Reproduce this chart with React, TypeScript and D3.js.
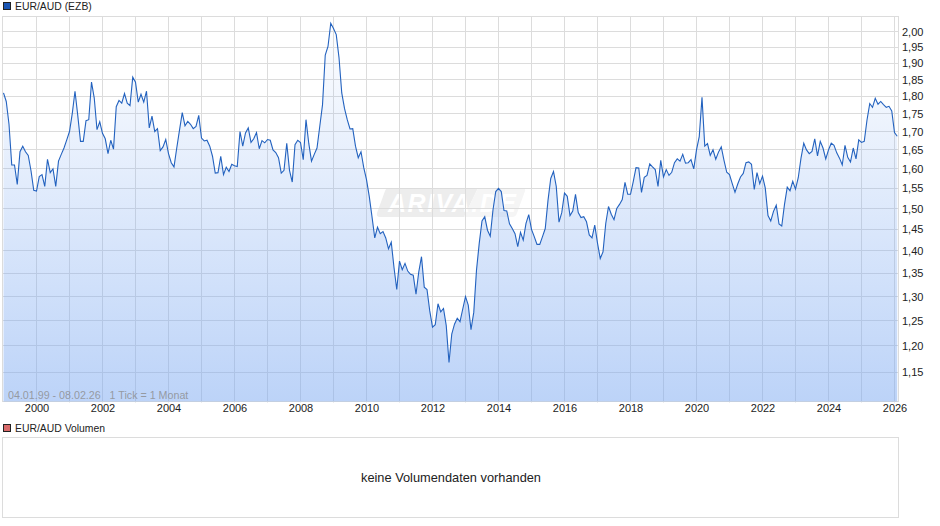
import React, { useRef, useEffect } from "react";
import * as d3 from "d3";

// monthly EUR/AUD close, Jan 1999 - Feb 2026, one row per year
const rates: number[] = [
    1.81, 1.785, 1.72, 1.61, 1.61, 1.56, 1.645, 1.66, 1.645, 1.635, 1.595, 1.545,
    1.543, 1.58, 1.585, 1.555, 1.625, 1.59, 1.6, 1.555, 1.62, 1.638, 1.655, 1.677,
    1.7, 1.75, 1.815, 1.745, 1.673, 1.673, 1.73, 1.733, 1.842, 1.795, 1.705, 1.727,
    1.695, 1.68, 1.64, 1.676, 1.652, 1.77, 1.788, 1.78, 1.808, 1.78, 1.773, 1.857,
    1.842, 1.783, 1.806, 1.783, 1.815, 1.71, 1.743, 1.7, 1.708, 1.648, 1.658, 1.678,
    1.64, 1.616, 1.605, 1.655, 1.704, 1.753, 1.716, 1.728, 1.72, 1.708, 1.714, 1.745,
    1.682, 1.674, 1.676, 1.66, 1.633, 1.589, 1.59, 1.633, 1.585, 1.604, 1.593, 1.612,
    1.608, 1.606, 1.7, 1.66, 1.696, 1.71, 1.67, 1.68, 1.697, 1.653, 1.675, 1.669,
    1.678, 1.676, 1.65, 1.643, 1.629, 1.589, 1.596, 1.668, 1.596, 1.566, 1.664, 1.676,
    1.67, 1.624, 1.733, 1.668, 1.62, 1.638, 1.655, 1.714, 1.775, 1.925, 1.952, 2.027,
    2.01, 1.99, 1.917, 1.81, 1.765, 1.733, 1.707, 1.708, 1.66, 1.629, 1.645, 1.603,
    1.572, 1.53, 1.48, 1.43, 1.455, 1.44, 1.445, 1.43, 1.405, 1.42, 1.363, 1.315,
    1.377, 1.358, 1.372, 1.355, 1.348, 1.346, 1.305, 1.353, 1.387, 1.32, 1.315, 1.27,
    1.237, 1.242, 1.285, 1.268, 1.275, 1.24, 1.168, 1.223, 1.243, 1.255, 1.248, 1.274,
    1.3, 1.282, 1.232, 1.267, 1.357, 1.418, 1.47, 1.48, 1.448, 1.434, 1.497, 1.542,
    1.55, 1.542, 1.495, 1.494, 1.463, 1.452, 1.44, 1.41, 1.443, 1.425, 1.464, 1.485,
    1.45, 1.433, 1.415, 1.415, 1.433, 1.452, 1.52, 1.575, 1.593, 1.555, 1.467, 1.49,
    1.538, 1.53, 1.483, 1.494, 1.535, 1.49, 1.478, 1.48, 1.468, 1.437, 1.43, 1.46,
    1.418, 1.383, 1.398, 1.464, 1.505, 1.486, 1.473, 1.5, 1.51, 1.522, 1.565, 1.535,
    1.535, 1.567, 1.603, 1.602, 1.54, 1.578, 1.583, 1.613, 1.605, 1.598, 1.555, 1.622,
    1.579, 1.598, 1.583, 1.591, 1.616, 1.626, 1.62, 1.638, 1.615, 1.616, 1.624, 1.6,
    1.65, 1.686, 1.797, 1.66, 1.667, 1.635, 1.65, 1.625, 1.644, 1.658, 1.622, 1.591,
    1.585, 1.562, 1.54, 1.561, 1.579, 1.588, 1.616, 1.618, 1.612, 1.547, 1.59, 1.562,
    1.581, 1.551, 1.483, 1.47, 1.493, 1.508, 1.463, 1.458, 1.51, 1.553, 1.544, 1.568,
    1.548, 1.577, 1.628, 1.668, 1.65, 1.64, 1.646, 1.68, 1.634, 1.673, 1.655, 1.626,
    1.65, 1.668, 1.662, 1.642, 1.628, 1.61, 1.662, 1.63, 1.618, 1.655, 1.626, 1.677,
    1.67, 1.673, 1.732, 1.779, 1.768, 1.794, 1.777, 1.785, 1.776, 1.768, 1.771, 1.758,
    1.697, 1.687,
];

const startYear = 1999;
const yearTicks = d3.range(2000, 2027);
const yearLabels = d3.range(2000, 2027, 2);
const rateTicks = [2.0, 1.95, 1.9, 1.85, 1.8, 1.75, 1.7, 1.65, 1.6, 1.55, 1.5, 1.45, 1.4, 1.35, 1.3, 1.25, 1.2, 1.15];

const priceTitle = "EUR/AUD (EZB)";
const volumeTitle = "EUR/AUD Volumen";
const noVolume = "keine Volumendaten vorhanden";
const rangeNote = "04.01.99 - 08.02.26   1 Tick = 1 Monat";

export default function App() {
    const svgRef = useRef<SVGSVGElement | null>(null);

    useEffect(() => {
        if (!svgRef.current) return;

        const left = 2.5;
        const right = 898.5;
        const top = 16.5;
        const bottom = 401.5;
        const gridColor = "#dcdcdc";
        const font = "'Liberation Sans', Arial, sans-serif";

        const svg = d3.select(svgRef.current);
        svg.selectAll("*").remove();
        svg.attr("font-family", font);

        const x = d3.scaleLinear().domain([2000, 2026]).range([36.5, 894.5]);
        // the price axis is logarithmic, 2,00 sits on y=31.5 and 1,15 on y=372
        const y = d3.scaleLog().domain([2.0, 1.15]).range([31.5, 372]);
        const snap = (v: number) => Math.floor(v) + 0.5;

        const points = rates.map((value, i) => ({ t: startYear + i / 12, value }));

        const defs = svg.append("defs");
        const grad = defs
            .append("linearGradient")
            .attr("id", "areaFill")
            .attr("gradientUnits", "userSpaceOnUse")
            .attr("x1", 0)
            .attr("x2", 0)
            .attr("y1", top)
            .attr("y2", bottom);
        grad.append("stop").attr("offset", 0).attr("stop-color", "#79a7f1").attr("stop-opacity", 0);
        grad.append("stop").attr("offset", 1).attr("stop-color", "#79a7f1").attr("stop-opacity", 0.5);

        // watermark
        const wm = svg.append("g");
        wm.append("path")
            .attr("d", "M388,188 H478 L464,217 H380 Q376,217 377,213 L385,191 Q386,188 388,188 Z")
            .attr("fill", "#ededed");
        wm.append("path")
            .attr("d", "M478,188 H522 Q526,188 525,191 L517,213 Q516,217 512,217 H464 Z")
            .attr("fill", "#f5f5f5");
        wm.append("text")
            .attr("x", 388)
            .attr("y", 212)
            .attr("font-size", 25)
            .attr("font-style", "italic")
            .attr("font-weight", "bold")
            .attr("fill", "#fff")
            .attr("textLength", 128)
            .text("ARIVA.DE");

        // grid
        svg.append("g")
            .selectAll("line")
            .data(rateTicks)
            .join("line")
            .attr("x1", left)
            .attr("x2", right)
            .attr("y1", (d) => snap(y(d)))
            .attr("y2", (d) => snap(y(d)))
            .attr("stroke", gridColor);
        svg.append("g")
            .selectAll("line")
            .data(yearTicks)
            .join("line")
            .attr("x1", (d) => x(d))
            .attr("x2", (d) => x(d))
            .attr("y1", top)
            .attr("y2", bottom + 1)
            .attr("stroke", gridColor);

        svg.append("rect")
            .attr("x", left)
            .attr("y", top)
            .attr("width", right - left)
            .attr("height", bottom - top)
            .attr("fill", "none")
            .attr("stroke", gridColor);

        const areaGen = d3
            .area<{ t: number; value: number }>()
            .x((d) => x(d.t))
            .y0(bottom)
            .y1((d) => y(d.value));
        const lineGen = d3
            .line<{ t: number; value: number }>()
            .x((d) => x(d.t))
            .y((d) => y(d.value));

        svg.append("path").datum(points).attr("d", areaGen).attr("fill", "url(#areaFill)");
        svg.append("path")
            .datum(points)
            .attr("d", lineGen)
            .attr("fill", "none")
            .attr("stroke", "#2362bf")
            .attr("stroke-width", 1.1);

        // axes
        const yAxis = svg
            .append("g")
            .attr("transform", `translate(${right},0)`)
            .call(
                d3
                    .axisRight(y)
                    .tickValues(rateTicks)
                    .tickSize(0)
                    .tickPadding(3.5)
                    .tickFormat((d) => d3.format(".2f")(d as number).replace(".", ",")),
            );
        yAxis.select(".domain").remove();
        yAxis.selectAll("text").attr("font-size", 11).attr("font-family", font).attr("fill", "#222");

        const xAxis = svg
            .append("g")
            .attr("transform", `translate(0,${bottom})`)
            .call(d3.axisBottom(x).tickValues(yearLabels).tickSize(0).tickPadding(2.5).tickFormat(d3.format("d")));
        xAxis.select(".domain").remove();
        xAxis.selectAll("text").attr("font-size", 11).attr("font-family", font).attr("fill", "#222");

        svg.append("text")
            .attr("x", 8)
            .attr("y", 399)
            .attr("font-size", 10.7)
            .attr("fill", "#8a8a8a")
            .attr("fill-opacity", 0.8)
            .style("white-space", "pre")
            .text(rangeNote);

        // legends
        const legend = (ly: number, color: string, label: string) => {
            svg.append("rect")
                .attr("x", 3.5)
                .attr("y", ly - 3.5)
                .attr("width", 7)
                .attr("height", 7)
                .attr("fill", color)
                .attr("stroke", "#222");
            svg.append("text")
                .attr("x", 15)
                .attr("y", ly + 4)
                .attr("font-size", 10.4)
                .attr("fill", "#222")
                .text(label);
        };
        legend(6, "#1a56b5", priceTitle);
        legend(428, "#d96a6a", volumeTitle);

        // volume panel
        svg.append("rect")
            .attr("x", left)
            .attr("y", 437.5)
            .attr("width", right - left)
            .attr("height", 80)
            .attr("fill", "#fff")
            .attr("stroke", gridColor);
        svg.append("text")
            .attr("x", 451)
            .attr("y", 482)
            .attr("text-anchor", "middle")
            .attr("font-size", 12.8)
            .attr("fill", "#222")
            .text(noVolume);
    }, []);

    return (
        <svg
            ref={svgRef}
            width={940}
            height={526}
            style={{ position: "absolute", left: 0, top: 0, display: "block", background: "#fff" }}
        ></svg>
    );
}
